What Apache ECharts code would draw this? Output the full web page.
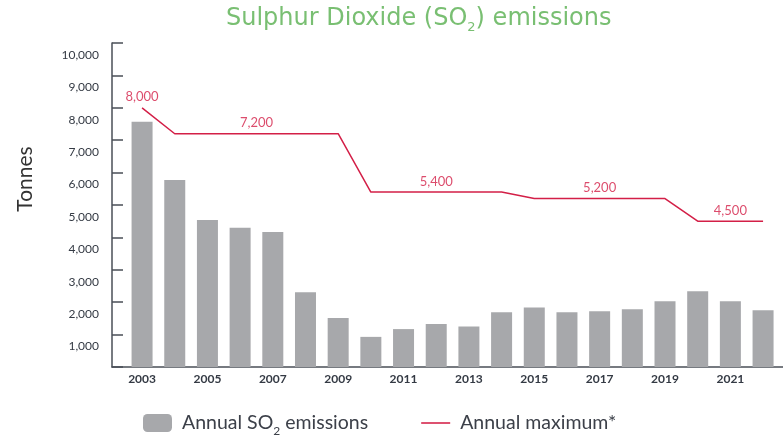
<!DOCTYPE html>
<html>
<head>
<meta charset="utf-8">
<script src="https://cdn.jsdelivr.net/npm/echarts@6/dist/echarts.min.js"></script>
<style>
  html, body { margin: 0; padding: 0; background: #fff; }
  #chart { width: 783px; height: 437px; }
</style>
</head>
<body>
<div id="chart"></div>
<script>
  // years on the x axis
  var years = [2003, 2004, 2005, 2006, 2007, 2008, 2009, 2010, 2011, 2012,
               2013, 2014, 2015, 2016, 2017, 2018, 2019, 2020, 2021, 2022];
  // annual SO2 emissions (tonnes)
  var emissions = [7570, 5770, 4540, 4300, 4170, 2310, 1510, 930, 1170, 1330,
                   1250, 1690, 1840, 1690, 1720, 1780, 2030, 2340, 2030, 1750];
  // annual maximum (tonnes)
  var annualMax = [8000, 7200, 7200, 7200, 7200, 7200, 7200, 5400, 5400, 5400,
                   5400, 5400, 5200, 5200, 5200, 5200, 5200, 4500, 4500, 4500];
  var yearLabels = [2003, 2005, 2007, 2009, 2011, 2013, 2015, 2017, 2019, 2021];

  var axisColor = '#4a4f57';
  var textColor = '#343a44';
  var red = '#d31f47';

  // one label per run of equal maximum values, at the middle year of the run
  var maxLabels = [];
  var runStart = 0;
  for (var i = 1; i <= years.length; i++) {
    if (i === years.length || annualMax[i] !== annualMax[runStart]) {
      maxLabels.push([(years[runStart] + years[i - 1]) / 2, annualMax[runStart]]);
      runStart = i;
    }
  }

  function fmt(v) {
    return String(v).replace(/\B(?=(\d{3})+(?!\d))/g, ',');
  }

  var chart = echarts.init(document.getElementById('chart'));

  var option = {
    animation: false,
    title: {
      text: 'Sulphur Dioxide (SO{s|2}) emissions',
      left: 226,
      top: 3,
      padding: 0,
      textStyle: {
        fontFamily: 'DejaVu Sans',
        fontWeight: 'normal',
        fontSize: 24,
        color: '#79bf72',
        rich: {
          s: { fontFamily: 'DejaVu Sans', fontSize: 13, color: '#79bf72', padding: [18, 0, 0, 0] }
        }
      }
    },
    graphic: [{
      type: 'text',
      x: 25,
      y: 179,
      rotation: Math.PI / 2,
      style: {
        text: 'Tonnes',
        fontFamily: 'Lato',
        fontSize: 21,
        fill: '#333',
        align: 'center',
        verticalAlign: 'middle'
      }
    }],
    legend: {
      left: 143,
      top: 413,
      padding: 0,
      itemWidth: 29,
      itemHeight: 18,
      itemGap: 53,
      data: [
        { name: 'Annual SO{s|2} emissions' },
        { name: 'Annual maximum*', icon: 'path://M0,0L30,0L30,1.6L0,1.6Z' }
      ],
      textStyle: {
        fontFamily: 'Lato',
        fontSize: 19.5,
        color: '#3c4049',
        padding: [0, 0, 0, 5],
        rich: {
          s: { fontFamily: 'Lato', fontSize: 12, color: '#3c4049', padding: [16, 0, 0, 0] }
        }
      }
    },
    grid: {
      left: 112,
      right: 0,
      top: 43,
      bottom: 70
    },
    xAxis: {
      type: 'value',
      min: 2002.08,
      max: 2022.61,
      axisLine: { lineStyle: { color: axisColor, width: 1.5 } },
      axisTick: { show: false },
      splitLine: { show: false },
      axisLabel: {
        customValues: yearLabels,
        formatter: function (v) { return String(v); },
        fontFamily: 'Lato',
        fontWeight: 'bold',
        fontSize: 12,
        color: textColor,
        margin: 6
      }
    },
    yAxis: {
      type: 'value',
      min: 0,
      max: 10000,
      interval: 1000,
      axisLine: { show: true, lineStyle: { color: axisColor, width: 1.5 } },
      axisTick: { show: true, inside: true, length: 11, lineStyle: { color: axisColor, width: 1.5 } },
      splitLine: { show: false },
      axisLabel: {
        formatter: function (v) { return v === 0 ? '' : fmt(v); },
        fontFamily: 'Lato',
        fontSize: 12,
        color: textColor,
        margin: 13,
        verticalAlign: 'top',
        padding: [6, 0, 0, 0]
      }
    },
    series: [
      {
        name: 'Annual SO{s|2} emissions',
        type: 'bar',
        barWidth: 21,
        itemStyle: { color: '#a7a8ab' },
        data: years.map(function (y, k) { return [y, emissions[k]]; })
      },
      {
        name: 'Annual maximum*',
        type: 'line',
        symbol: 'none',
        lineStyle: { color: red, width: 1.5 },
        itemStyle: { color: red },
        data: years.map(function (y, k) { return [y, annualMax[k]]; })
      },
      {
        name: 'labels',
        type: 'scatter',
        symbolSize: 0,
        silent: true,
        label: {
          show: true,
          position: 'top',
          distance: 4,
          fontFamily: 'Lato',
          fontSize: 13,
          color: red,
          formatter: function (p) { return fmt(p.value[1]); }
        },
        data: maxLabels
      }
    ]
  };

  chart.setOption(option);
</script>
</body>
</html>
